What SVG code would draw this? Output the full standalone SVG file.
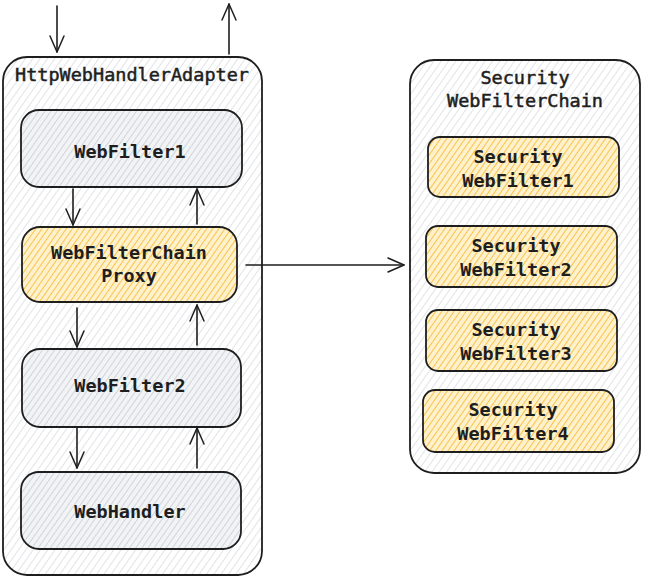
<svg xmlns="http://www.w3.org/2000/svg" width="646" height="580" viewBox="0 0 646 580">
<defs>
<pattern id="hOuter" width="6" height="6" patternUnits="userSpaceOnUse" patternTransform="rotate(35)">
<rect width="6" height="6" fill="#ffffff"/>
<line x1="0" y1="0" x2="0" y2="6" stroke="#c4c8cd" stroke-width="1"/>
</pattern>
<pattern id="hGray" width="5" height="5" patternUnits="userSpaceOnUse" patternTransform="rotate(35)">
<rect width="5" height="5" fill="#f1f3f5"/>
<line x1="0" y1="0" x2="0" y2="5" stroke="#bcc2c9" stroke-width="1.2"/>
</pattern>
<pattern id="hYellow" width="5" height="5" patternUnits="userSpaceOnUse" patternTransform="rotate(35)">
<rect width="5" height="5" fill="#fff1cc"/>
<line x1="0" y1="0" x2="0" y2="5" stroke="#f5b72e" stroke-width="1.6"/>
</pattern>
<marker id="arr" viewBox="0 0 20 20" refX="18" refY="10" markerWidth="20" markerHeight="20" markerUnits="userSpaceOnUse" orient="auto">
<path d="M2 3 L18 10 L2 17" fill="none" stroke="#1e1e1e" stroke-width="1.5" stroke-linecap="round" stroke-linejoin="round"/>
</marker>
</defs>
<style>
.box{stroke:#1e1e1e;stroke-width:1.8}
.outer{fill:url(#hOuter)}
.gray{fill:url(#hGray)}
.yel{fill:url(#hYellow)}
text{font-family:"DejaVu Sans Mono","Liberation Mono",monospace;font-size:18.5px;font-weight:bold;fill:#1e1e1e;text-anchor:middle}
.t{font-weight:normal;stroke:#1e1e1e;stroke-width:0.5}
.c{fill:none;stroke:#1e1e1e;stroke-width:1.6;stroke-linecap:round;marker-end:url(#arr)}
</style>
<g id="httpAdapter">
<rect class="box outer" x="3" y="57" width="259" height="518" rx="24"/>
<text x="132" y="81" class="t">HttpWebHandlerAdapter</text>
</g>
<g id="webFilter1">
<rect class="box gray" x="21" y="110" width="221" height="77" rx="18"/>
<text x="130" y="158">WebFilter1</text>
</g>
<g id="proxy">
<rect class="box yel" x="22" y="227" width="215" height="75" rx="18"/>
<text x="129" y="259">WebFilterChain</text>
<text x="129" y="282">Proxy</text>
</g>
<g id="webFilter2">
<rect class="box gray" x="22" y="349" width="219" height="78" rx="18"/>
<text x="130" y="392">WebFilter2</text>
</g>
<g id="webHandler">
<rect class="box gray" x="21" y="472" width="220" height="77" rx="18"/>
<text x="130" y="518">WebHandler</text>
</g>
<g id="secChain">
<rect class="box outer" x="410" y="60" width="230" height="413" rx="24"/>
<text x="525" y="84" class="t">Security</text>
<text x="525" y="107" class="t">WebFilterChain</text>
</g>
<g id="sec1">
<rect class="box yel" x="428" y="137" width="191" height="60" rx="12"/>
<text x="518" y="163">Security</text>
<text x="518" y="187">WebFilter1</text>
</g>
<g id="sec2">
<rect class="box yel" x="426" y="226" width="191" height="61" rx="12"/>
<text x="516" y="252">Security</text>
<text x="516" y="276">WebFilter2</text>
</g>
<g id="sec3">
<rect class="box yel" x="426" y="310" width="191" height="61" rx="12"/>
<text x="516" y="336">Security</text>
<text x="516" y="360">WebFilter3</text>
</g>
<g id="sec4">
<rect class="box yel" x="423" y="390" width="191" height="62" rx="12"/>
<text x="513" y="416">Security</text>
<text x="513" y="440">WebFilter4</text>
</g>
<g id="connectors">
<path class="c" d="M57 6 L57 52"/>
<path class="c" d="M229 54 L229 4"/>
<path class="c" d="M73 189 L73 225"/>
<path class="c" d="M197 224 L197 189"/>
<path class="c" d="M77 308 L77 347"/>
<path class="c" d="M197 345 L197 305"/>
<path class="c" d="M77 428 L77 468"/>
<path class="c" d="M197 468 L197 428"/>
<path class="c" d="M246 265 L404 265"/>
</g>
</svg>
